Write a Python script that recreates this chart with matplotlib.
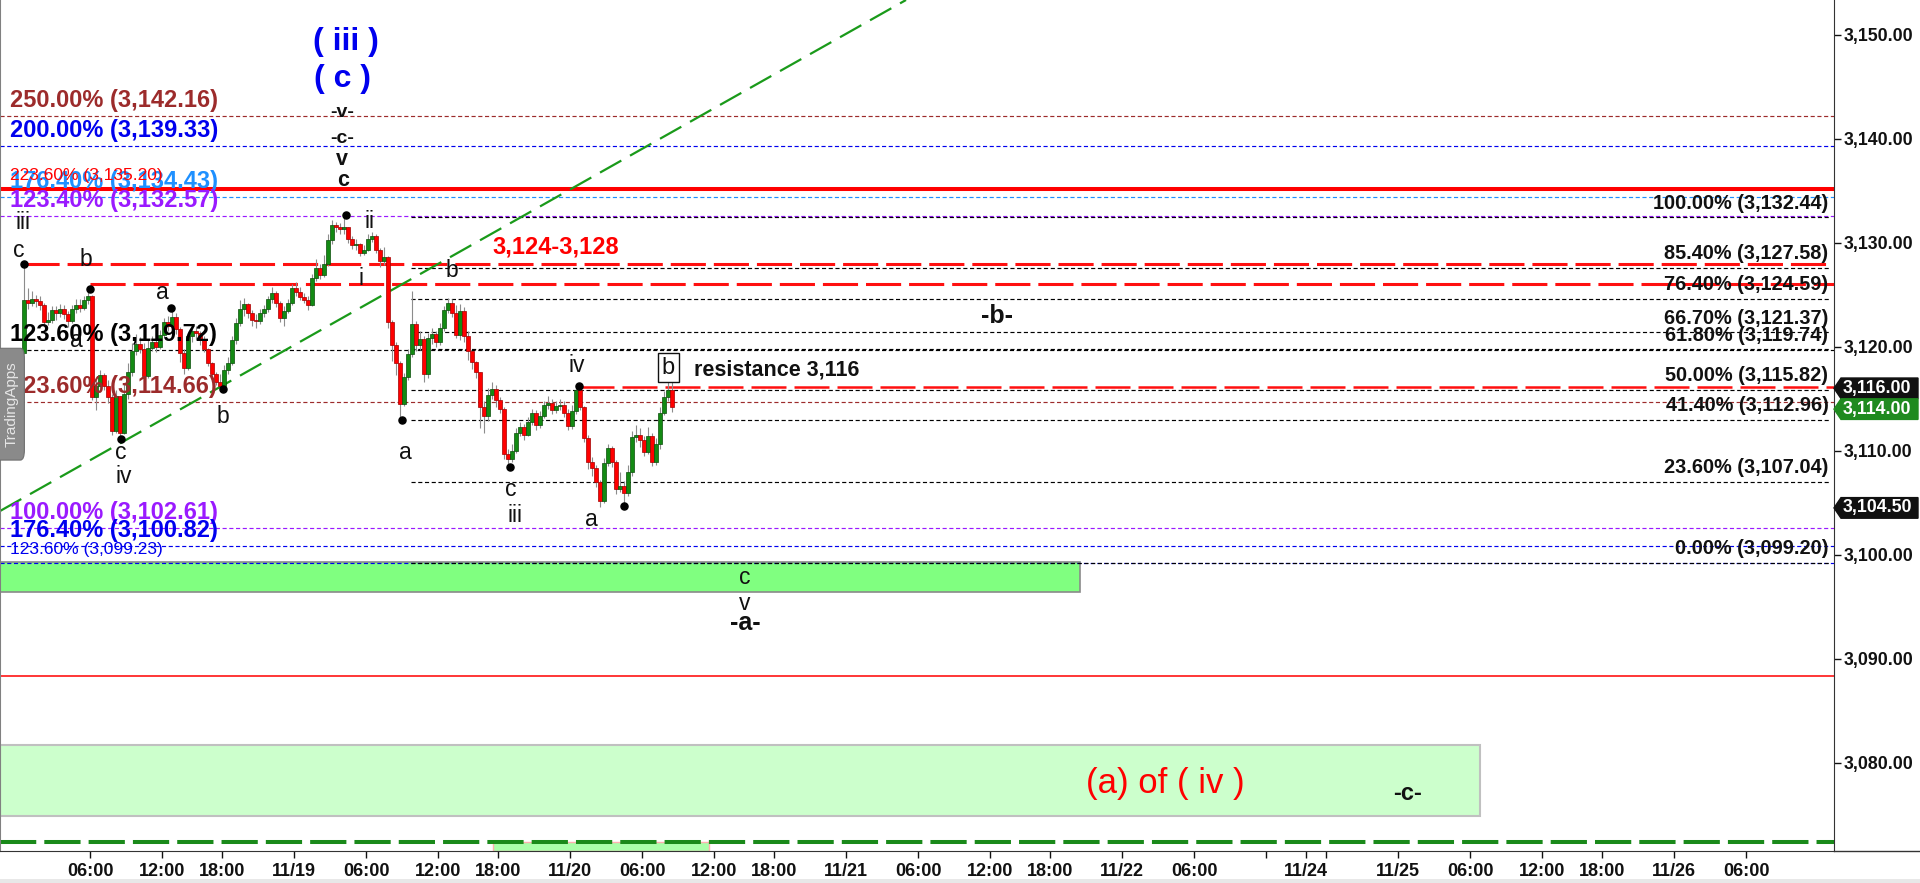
import matplotlib
matplotlib.use('Agg')
import matplotlib.pyplot as plt
from matplotlib.patches import Rectangle, Polygon, FancyBboxPatch
from matplotlib.lines import Line2D
import matplotlib.transforms as mtransforms

plt.rcParams['font.family'] = ['Liberation Sans', 'DejaVu Sans']

# ---------------- data ----------------
first_open = 3117.5
bar_close = [
    3118.2, 3118.9, 3119.2, 3118.6, 3119.4, 3124.5, 3124.2, 3124.6, 3124.4, 3124.0,
    3122.4, 3122.6, 3123.5, 3123.2, 3123.6, 3123.1, 3122.5, 3123.6, 3124.0, 3123.7,
    3124.5, 3124.9, 3115.2, 3116.2, 3117.3, 3116.2, 3115.2, 3111.9, 3115.3, 3111.7,
    3115.5, 3117.6, 3119.6, 3120.3, 3119.8, 3117.2, 3119.9, 3120.5, 3120.0, 3121.1,
    3122.4, 3122.0, 3122.9, 3121.7, 3119.4, 3118.0, 3121.0, 3121.5, 3121.3, 3120.7,
    3119.8, 3118.4, 3117.4, 3116.6, 3116.2, 3117.8, 3118.4, 3120.6, 3122.3, 3123.6,
    3124.1, 3123.2, 3122.6, 3122.5, 3123.2, 3123.6, 3124.6, 3125.2, 3124.2, 3122.8,
    3123.4, 3124.2, 3125.6, 3125.3, 3124.8, 3124.5, 3124.0, 3126.6, 3127.6, 3126.9,
    3128.0, 3130.3, 3131.7, 3131.5, 3131.3, 3131.5, 3130.4, 3129.8, 3129.9, 3129.0,
    3129.3, 3130.4, 3130.6, 3129.3, 3128.2, 3128.6, 3122.4, 3120.2, 3118.4, 3114.5,
    3117.1, 3119.3, 3122.2, 3120.2, 3120.7, 3117.4, 3120.8, 3121.2, 3120.5, 3121.8,
    3123.5, 3124.2, 3123.2, 3121.1, 3123.4, 3121.0, 3119.6, 3118.5, 3117.6, 3114.2,
    3113.3, 3115.4, 3115.9, 3114.9, 3114.0, 3109.7, 3109.2, 3110.0, 3111.7, 3112.3,
    3111.5, 3112.8, 3113.6, 3112.5, 3113.3, 3114.4, 3114.6, 3113.9, 3114.3, 3114.4,
    3113.6, 3112.4, 3113.8, 3115.8, 3114.2, 3111.2, 3108.9, 3108.3, 3107.0, 3105.2,
    3108.8, 3110.3, 3108.9, 3106.3, 3106.6, 3105.9, 3108.0, 3111.3, 3111.5, 3111.0,
    3109.9, 3111.4, 3108.9, 3110.6, 3113.6, 3115.2, 3115.8, 3114.2]
bar_high = [
    3118.8, 3119.6, 3119.8, 3119.5, 3119.9, 3127.9, 3125.6, 3125.4, 3125.0, 3124.9,
    3124.2, 3123.3, 3123.9, 3123.9, 3124.1, 3124.0, 3123.4, 3124.0, 3124.6, 3124.6,
    3124.9, 3125.5, 3125.0, 3117.1, 3117.8, 3117.5, 3116.8, 3115.5, 3115.8, 3115.0,
    3116.4, 3118.4, 3120.4, 3121.2, 3120.9, 3120.4, 3120.6, 3121.0, 3120.8, 3121.6,
    3122.8, 3123.0, 3123.6, 3123.2, 3121.9, 3119.8, 3121.3, 3122.0, 3122.0, 3121.5,
    3121.0, 3119.9, 3118.5, 3117.6, 3117.4, 3118.2, 3119.0, 3121.0, 3122.8, 3124.5,
    3124.7, 3124.2, 3123.5, 3123.1, 3123.6, 3124.0, 3124.9, 3125.7, 3125.4, 3124.4,
    3123.9, 3124.6, 3126.0, 3126.2, 3125.7, 3125.2, 3124.9, 3127.0, 3128.4, 3128.0,
    3128.8, 3130.8, 3132.2, 3132.0, 3131.9, 3132.6, 3131.4, 3130.6, 3130.4, 3130.0,
    3129.8, 3130.8, 3131.0, 3130.8, 3129.5, 3129.6, 3128.7, 3122.6, 3120.5, 3118.6,
    3117.5, 3119.8, 3125.4, 3122.5, 3121.5, 3121.0, 3121.3, 3121.8, 3121.5, 3122.3,
    3123.9, 3124.7, 3124.6, 3124.0, 3124.1, 3123.8, 3121.5, 3119.5, 3118.6, 3117.0,
    3114.8, 3116.0, 3116.6, 3116.3, 3115.2, 3114.2, 3110.2, 3110.6, 3112.2, 3112.8,
    3112.6, 3113.2, 3114.0, 3113.9, 3113.8, 3114.8, 3115.3, 3115.0, 3114.8, 3115.0,
    3114.8, 3114.0, 3114.4, 3116.3, 3116.2, 3114.3, 3111.5, 3109.4, 3108.6, 3107.2,
    3109.3, 3110.6, 3110.5, 3109.1, 3108.0, 3107.1, 3108.6, 3111.9, 3112.5, 3112.2,
    3111.4, 3112.3, 3111.7, 3111.2, 3114.2, 3115.7, 3117.0, 3117.0]
bar_low = [
    3117.2, 3117.9, 3118.5, 3118.2, 3118.4, 3119.3, 3123.6, 3123.9, 3123.8, 3123.5,
    3122.0, 3122.1, 3122.3, 3122.6, 3122.9, 3122.7, 3121.9, 3122.3, 3123.2, 3123.3,
    3123.5, 3124.1, 3114.9, 3113.9, 3115.6, 3115.8, 3114.6, 3111.5, 3111.7, 3111.2,
    3111.6, 3115.0, 3117.2, 3119.2, 3119.4, 3116.7, 3117.0, 3119.6, 3119.5, 3119.8,
    3120.9, 3121.5, 3121.7, 3121.2, 3118.5, 3117.4, 3117.8, 3120.5, 3120.7, 3120.2,
    3119.5, 3118.1, 3117.0, 3116.3, 3115.9, 3115.9, 3117.4, 3118.2, 3120.3, 3122.0,
    3123.0, 3122.8, 3122.0, 3121.8, 3122.2, 3122.9, 3123.3, 3124.2, 3123.8, 3122.4,
    3122.0, 3123.2, 3124.0, 3124.9, 3124.5, 3124.2, 3123.5, 3123.9, 3126.3, 3126.5,
    3126.7, 3127.8, 3129.9, 3131.0, 3130.8, 3130.8, 3130.0, 3129.4, 3129.3, 3128.7,
    3128.8, 3129.2, 3130.1, 3129.0, 3127.7, 3127.9, 3121.8, 3118.6, 3117.3, 3113.0,
    3114.3, 3116.8, 3119.0, 3119.6, 3119.7, 3116.6, 3117.0, 3120.3, 3120.0, 3120.2,
    3121.5, 3123.2, 3122.9, 3120.8, 3120.6, 3120.5, 3118.7, 3117.9, 3117.0, 3112.2,
    3111.7, 3112.9, 3115.0, 3114.2, 3113.6, 3109.2, 3108.4, 3108.9, 3109.8, 3111.4,
    3111.0, 3111.4, 3112.5, 3112.0, 3112.2, 3113.1, 3114.0, 3113.5, 3113.6, 3113.9,
    3113.2, 3112.0, 3112.1, 3113.5, 3113.9, 3110.8, 3108.2, 3107.6, 3106.5, 3104.6,
    3105.0, 3108.5, 3108.4, 3105.8, 3106.0, 3104.7, 3105.6, 3107.6, 3110.8, 3110.4,
    3109.5, 3109.7, 3108.5, 3108.6, 3110.2, 3113.4, 3114.8, 3113.7]

x_tick_pos = [22.5, 40.5, 55.5, 73.5, 91.5, 109.5, 124.5, 142.5, 160.5, 178.5,
              193.5, 211.5, 229.5, 247.5, 262.5, 280.5, 298.5, 316.5, 326.5,
              331.5, 349.5, 367.5, 385.5, 400.5, 418.5, 436.5]
x_tick_labels = ['06:00', '12:00', '18:00', '11/19', '06:00', '12:00', '18:00',
                 '11/20', '06:00', '12:00', '18:00', '11/21', '06:00', '12:00',
                 '18:00', '11/22', '06:00', '', '11/24', '', '11/25', '06:00',
                 '12:00', '18:00', '11/26', '06:00']
y_ticks = [3080, 3090, 3100, 3110, 3120, 3130, 3140, 3150]

# left-side projection levels: text, price
left_levels = [('250.00% (3,142.16)', 3142.16), ('200.00% (3,139.33)', 3139.33),
               ('176.40% (3,134.43)', 3134.43), ('223.60% (3,135.20)', 3135.20),
               ('123.40% (3,132.57)', 3132.57), ('123.60% (3,119.72)', 3119.72),
               ('123.60% (3,114.66)', 3114.66), ('100.00% (3,102.61)', 3102.61),
               ('176.40% (3,100.82)', 3100.82), ('123.60% (3,099.23)', 3099.23)]
# right-side retracement levels
fib_pct = ['100.00%', '85.40%', '76.40%', '66.70%', '61.80%', '50.00%', '41.40%', '23.60%', '0.00%']
fib_price = [3132.44, 3127.58, 3124.59, 3121.37, 3119.74, 3115.82, 3112.96, 3107.04, 3099.20]

resist_hi = 3128.0
resist_mid = 3126.0
resist_lo = 3116.1
thin_red = 3088.3
green_dash = 3072.35
zone1 = (3096.38, 3099.33)
zone2 = (3074.85, 3081.7)
zone3 = (3071.5, 3072.35)
trend_pts = [(0.0, 3104.2), (226.5, 3153.34)]

pivot_x = [6.1, 22.5, 30.2, 42.75, 55.7, 86.4, 100.6, 127.6, 144.75, 156.1]
pivot_p = [3127.95, 3125.55, 3111.1, 3123.7, 3115.9, 3132.66, 3112.95, 3108.4, 3116.2, 3104.7]

price_tags = [('3,116.00', 3116.0, '#111111'), ('3,114.00', 3114.0, '#1f8a1f'),
              ('3,104.50', 3104.5, '#111111')]

# ---------------- figure ----------------
W, H = 1920, 883
fig = plt.figure(figsize=(W / 100, H / 100), dpi=100)
ax = fig.add_axes([0, 32 / H, 1834 / W, 851 / H])
XMAX = 458.5
ax.set_xlim(0, XMAX)
ax.set_ylim(3071.51, 3153.34)

ax.spines['top'].set_visible(False)
ax.spines['left'].set_color('#808080')
ax.spines['left'].set_linewidth(1.5)
ax.spines['right'].set_color('#333333')
ax.spines['bottom'].set_color('#333333')

# zones
ax.add_patch(Rectangle((0, zone1[0]), 270, zone1[1] - zone1[0], fc='#80FF80', ec='#8a8a8a', lw=1.2, zorder=1))
ax.add_patch(Rectangle((0, zone2[0]), 370, zone2[1] - zone2[0], fc='#CCFFCC', ec='#c0c0c0', lw=1.5, zorder=1))
ax.add_patch(Rectangle((123.25, zone3[0]), 53.9, zone3[1] - zone3[0], fc='#AAFFAA', ec='#FFB0B0', lw=1, zorder=1))

dot = (0, (3.5, 2.2))
lw_dot = 0.85
colors_left = ['#9C2B2B', '#0000EE', '#1E90FF', '#FF0000', '#9A1AFF', '#000000',
               '#9C2B2B', '#9A1AFF', '#0000EE', '#0000EE']
sizes_left = [17, 17, 17, 12.5, 17, 17, 17, 17, 17, 12.5]
weights_left = ['bold'] * 3 + ['normal'] + ['bold'] * 5 + ['normal']

# full width dotted lines
for (txt, p), col in zip(left_levels, colors_left):
    if txt.startswith('223.60%'):
        continue
    ax.hlines(p, 0, XMAX, colors=col, linestyles=dot, lw=lw_dot, zorder=2)

# fib lines from swing
for p in fib_price:
    ax.hlines(p, 102.8, 457.6, colors='#000000', linestyles=dot, lw=lw_dot, zorder=2)

# red thick line
ax.hlines(3135.20, 0, XMAX, colors='#FF0000', lw=2.9, zorder=2)
# red dashed resistance
rd = (0, (11.5, 2.6))
ax.hlines(resist_hi, 6.1, XMAX, colors='#FF1010', linestyles=rd, lw=2.2, zorder=2)
ax.hlines(resist_mid, 22.5, XMAX, colors='#FF1010', linestyles=rd, lw=2.2, zorder=2)
ax.hlines(resist_lo, 144.75, XMAX, colors='#FF1010', linestyles=(0, (14, 3.2)), lw=1.8, zorder=2)
# thin red
ax.hlines(thin_red, 0, XMAX, colors='#FF0000', lw=1.1, zorder=2)
# green dashed bottom
ax.hlines(green_dash, 0, XMAX, colors='#1a8a1a', linestyles=(0, (9, 2)), lw=2.9, zorder=2)
# trend line
ax.plot([trend_pts[0][0], trend_pts[1][0]], [trend_pts[0][1], trend_pts[1][1]],
        color='#1a9a1a', lw=1.6, linestyle=(0, (11, 4.5)), zorder=2.5)

# candles
opens = [first_open] + bar_close[:-1]
xs = list(range(1, len(bar_close) + 1))
for x, o, c, h, l in zip(xs, opens, bar_close, bar_high, bar_low):
    hi = max(h, o, c)
    lo = min(l, o, c)
    ax.vlines(x, lo, hi, colors='#8c8c8c', lw=0.8, zorder=3)
    up = c >= o
    body = max(abs(c - o), 0.1)
    ax.add_patch(Rectangle((x - 0.38, min(o, c)), 0.76, body,
                           fc='#138a13' if up else '#FF0000',
                           ec='#0b4d0b' if up else '#a00000', lw=0.5, zorder=3.5))

# pivot dots
ax.scatter(pivot_x, pivot_p, s=26, color='#000000', zorder=4)

# left labels
for (txt, p), col, fs, fw in zip(left_levels, colors_left, sizes_left, weights_left):
    ax.text(2.5, p + 0.85, txt, color=col, fontsize=fs, fontweight=fw,
            ha='left', va='baseline', zorder=5)

# right labels
for pct, p in zip(fib_pct, fib_price):
    ax.text(457.1, p + 0.85, f'{pct} ({p:,.2f})', color='#111111', fontsize=14.3,
            fontweight='bold', ha='right', va='baseline', zorder=5)

# wave labels
def lab(x, p, s, fs=16.5, fw='normal', color='#111111'):
    ax.text(x, p, s, fontsize=fs, fontweight=fw, color=color, ha='center', va='center', zorder=5)

lab(86.5, 3149.3, '( iii )', 23, 'bold', '#0000EE')
lab(85.5, 3145.7, '( c )', 23, 'bold', '#0000EE')
lab(85.5, 3142.5, '-v-', 14, 'bold')
lab(85.5, 3140.0, '-c-', 14, 'bold')
lab(85.5, 3138.05, 'v', 15.5, 'bold')
lab(85.7, 3136.0, 'c', 15.5, 'bold')
lab(5.7, 3131.9, 'iii')
lab(4.75, 3129.3, 'c')
lab(21.4, 3128.4, 'b')
lab(19.0, 3120.6, 'a')
lab(40.7, 3125.2, 'a')
lab(55.8, 3113.3, 'b')
lab(30.2, 3109.85, 'c')
lab(31.0, 3107.5, 'iv')
lab(92.5, 3132.0, 'ii')
lab(90.2, 3126.6, 'i')
lab(112.9, 3127.3, 'b')
lab(101.4, 3109.8, 'a')
lab(144.3, 3118.24, 'iv')
lab(127.7, 3106.3, 'c')
lab(128.75, 3103.8, 'iii')
lab(147.9, 3103.4, 'a')
ax.text(167.1, 3118.0, 'b', fontsize=17, color='#111111', ha='center', va='center', zorder=5,
        bbox=dict(boxstyle='square,pad=0.16', fc='white', ec='#111111', lw=1))
ax.text(173.5, 3117.76, 'resistance 3,116', fontsize=15.5, fontweight='bold', color='#111111',
        ha='left', va='center', zorder=5)
lab(249.2, 3122.95, '-b-', 18, 'bold')
lab(186.25, 3097.8, 'c', 16.5)
lab(186.25, 3095.3, 'v', 16.5)
lab(186.25, 3093.4, '-a-', 18, 'bold')
lab(138.9, 3129.6, '3,124-3,128', 17, 'bold', '#FF0000')
lab(291.4, 3078.0, '(a) of ( iv )', 25, 'normal', '#FF0000')
lab(352.0, 3077.0, '-c-', 17, 'bold')

# TradingApps tag
ax.add_patch(FancyBboxPatch((-1, 3109.1), 7.1, 10.75, boxstyle='round,pad=0,rounding_size=1.0',
                            fc='#8a8a8a', ec='#707070', lw=0.8, zorder=6, clip_on=False))
ax.text(3.0, 3114.47, 'TradingApps', rotation=90, fontsize=11, color='#e6e6e6',
        ha='center', va='center', zorder=7)

# ticks
ax.yaxis.tick_right()
ax.set_yticks(y_ticks)
ax.set_yticklabels([f'{v:,.2f}' for v in y_ticks], fontsize=12.8, fontweight='bold')
ax.tick_params(axis='y', length=5, width=1, pad=2, colors='#111111')
ax.set_xticks(x_tick_pos)
ax.set_xticklabels(x_tick_labels, fontsize=13, fontweight='bold')
ax.tick_params(axis='x', length=5, width=1, pad=3.5, colors='#111111')

# price tags
blend = mtransforms.blended_transform_factory(ax.transAxes, ax.transData)
ppx = 1 / 1834.0
half = 10.3 / 10.4
for txt, p, col in price_tags:
    verts = [(1.0, p), (1.0 + 7 * ppx, p + half), (1.0 + 84 * ppx, p + half),
             (1.0 + 84 * ppx, p - half), (1.0 + 7 * ppx, p - half)]
    ax.add_patch(Polygon(verts, closed=True, transform=blend, fc=col, ec=col,
                         clip_on=False, zorder=8))
    ax.text(1.0 + 43 * ppx, p, txt, transform=blend, color='white', fontsize=12.8,
            fontweight='bold', ha='center', va='center', zorder=9, clip_on=False)

# extend bottom axis line and bottom strip
fig.add_artist(Line2D([1834 / W, 1], [32 / H, 32 / H], color='#333333', lw=1))
fig.add_artist(Rectangle((0, 0), 1, 4 / H, transform=fig.transFigure, fc='#e8e8e8', ec='none'))

fig.savefig('out.png', dpi=100)
